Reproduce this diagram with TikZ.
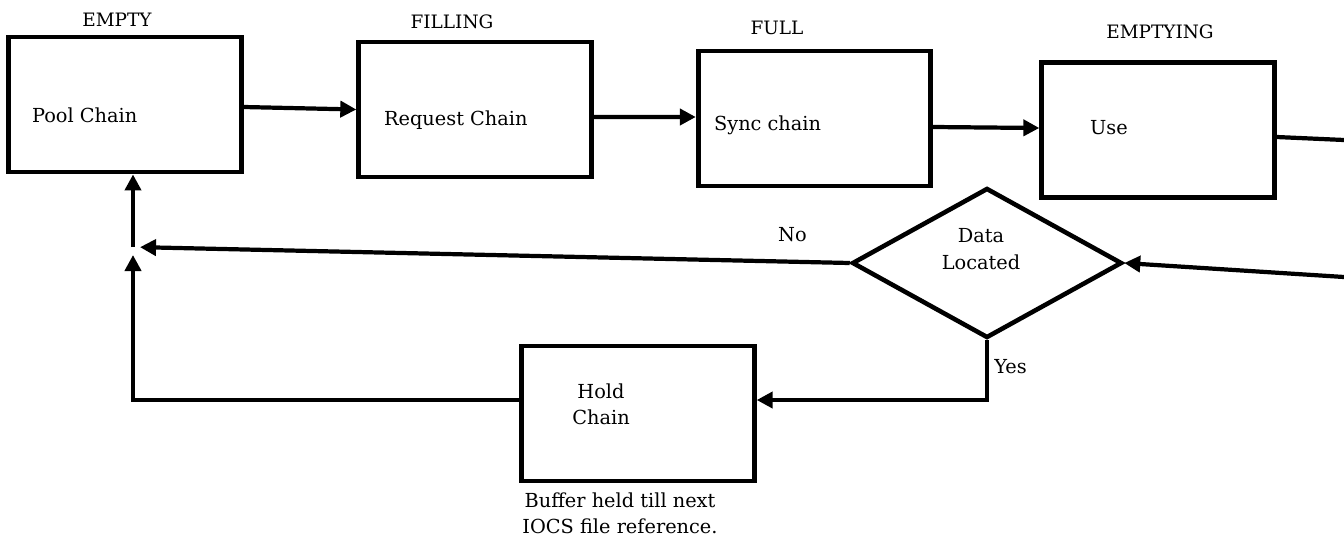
\documentclass[tikz,border=0pt]{standalone}
\usepackage{fontspec}
\setmainfont{DejaVu Serif}
\usetikzlibrary{arrows.meta,positioning,shapes.geometric,calc}

\begin{document}
\begin{tikzpicture}[
    x=0.02cm,y=-0.02cm,
    chain/.style={rectangle,draw,line width=2.8pt,minimum width=4.65cm,minimum height=2.7cm,inner sep=0pt},
    test/.style={diamond,draw,line width=2.6pt,minimum width=5.4cm,minimum height=3cm,inner sep=0pt},
    txt/.style={font=\fontsize{11}{13}\selectfont,inner sep=1pt},
    state/.style={font=\fontsize{10.5}{12}\selectfont,inner sep=1pt},
    arr/.style={-{Triangle[length=3.2mm,width=3.2mm]},line width=2.4pt},
    wire/.style={line width=2.4pt},
]
\useasboundingbox (0,0) rectangle (1344,545);

% buffer chains
\node[chain] (pool) at (125,104.5) {};
\node[chain] (req) at (475,109.5) {};
\node[chain] (sync) at (814.5,118.5) {};
\node[chain] (use) at (1158,130) {};
\node[chain] (hold) at (638,413.5) {};
\node[test] (dl) at (987,263) {};

\node[txt,anchor=west] (pooltxt) at (30,115) {Pool Chain};
\node[txt,anchor=west] (reqtxt) at (382,120) {Request Chain};
\node[txt,anchor=west] (synctxt) at (712,125) {Sync chain};
\node[txt,anchor=west] (usetxt) at (1088,128) {Use};
\node[txt,align=center] (holdtxt) at (601,404) {Hold\\[2pt]Chain};
\node[txt,align=center] (dltxt) at (981,249) {Data\\[2pt]Located};
\node[txt,align=center] (note) at (620,513) {Buffer held till next\\[2pt]IOCS file reference.};

% buffer states
\node[state] (s1) at (117,20) {EMPTY};
\node[state] (s2) at (452,22) {FILLING};
\node[state] (s3) at (777,28) {FULL};
\node[state] (s4) at (1160,32) {EMPTYING};

\coordinate (jn) at (133,247);
\coordinate (outr) at (1344,140);
\coordinate (inr) at (1344,277);

\draw[arr] ([yshift=-0.05cm]pool.east) -- (req.west);
\draw[arr] ([yshift=-0.15cm]req.east) -- ([yshift=0.03cm]sync.west);
\draw[arr] ([yshift=-0.17cm]sync.east) -- ([yshift=0.04cm]use.west);
\draw[wire] ([yshift=-0.14cm]use.east) -- (outr);
\draw[arr] (inr) -- (dl.east);

\draw[arr,shorten >=0.14cm] (dl.west) -- (jn) node[txt,pos=0.08,above=9pt] (no) {No};
\draw[arr] (dl.south) |- ([yshift=0.27cm]hold.east) node[txt,pos=0.22,right=2pt] (yes) {Yes};
\draw[arr,shorten >=0.16cm] ([yshift=0.27cm]hold.west) -| (jn);
\draw[arr] (jn) -- (jn |- pool.south);
\end{tikzpicture}
\end{document}
